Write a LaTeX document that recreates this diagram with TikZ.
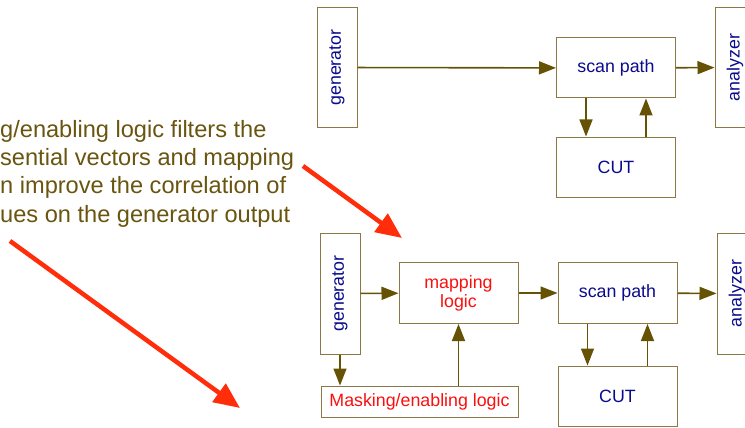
\documentclass[tikz,border=0pt]{standalone}
\usepackage{fontspec}
\setmainfont{Liberation Sans}
\usetikzlibrary{arrows.meta,positioning}
\definecolor{boxline}{RGB}{140,120,70}
\definecolor{arrcol}{RGB}{102,82,5}
\definecolor{txtblue}{RGB}{10,10,140}
\definecolor{hired}{RGB}{250,15,15}
\definecolor{ptred}{RGB}{255,45,10}
\definecolor{notecol}{RGB}{105,85,15}
\tikzset{
  blk/.style={draw=boxline, line width=1pt, minimum width=119pt, minimum height=61pt,
              inner sep=0pt, align=center, text=txtblue, font=\fontsize{17.8}{19}\selectfont},
  vblk/.style={blk, rotate=90, minimum width=121pt, minimum height=40pt},
  redblk/.style={blk, text=hired},
  flow/.style={-{Triangle[length=17pt,width=13pt]}, arrcol, line width=1.6pt},
  hint/.style={-{Triangle[length=26pt,width=22pt]}, ptred, line width=4.5pt},
  note/.style={anchor=west, inner sep=0pt, align=left, text=notecol,
               font=\fontsize{23.6}{28.3}\selectfont},
}
\begin{document}
\begin{tikzpicture}[x=1pt,y=-1pt]
  \useasboundingbox (0,0) rectangle (745,428);
  \node[note] (txt) at (0,173.5)
       {g/enabling logic filters the\\ sential vectors and mapping\\
        n improve the correlation of\\ ues on the generator output};

  \node[vblk, minimum width=119pt] (gen1) at (337,67.5) {generator};
  \node[blk, minimum height=60pt] (scan1) at (616,68) {scan path};
  \node[blk, minimum height=60pt] (cut1) at (616,167) {CUT};
  \node[vblk, minimum width=119pt] (ana1) at (735,67.5) {analyzer};
  \draw[flow] (gen1) -- (scan1);
  \draw[flow] (scan1) -- (ana1);
  \draw[flow] ([xshift=-30pt]scan1.south) -- ([xshift=-30pt]cut1.north);
  \draw[flow] ([xshift=30pt]cut1.north) -- ([xshift=30pt]scan1.south);

  \node[vblk] (gen2) at (340,293.5) {generator};
  \node[redblk] (map) at (458.5,293) {mapping\\ logic};
  \node[blk] (scan2) at (617.5,293) {scan path};
  \node[blk, minimum height=60pt] (cut2) at (617.5,396) {CUT};
  \node[vblk] (ana2) at (737,293.5) {analyzer};
  \node[redblk, minimum width=197pt, minimum height=31pt] (mask) at (419.5,401.5)
       {Masking/enabling logic};
  \draw[flow] (gen2) -- (map);
  \draw[flow] (map) -- (scan2);
  \draw[flow] (scan2) -- (ana2);
  \draw[flow] (gen2.west) -- (gen2.west |- mask.north);
  \draw[flow] (mask.north -| map) -- (map.south);
  \draw[flow] ([xshift=-30pt]scan2.south) -- ([xshift=-30pt]cut2.north);
  \draw[flow] ([xshift=30pt]cut2.north) -- ([xshift=30pt]scan2.south);

  \coordinate (p1a) at (303,166);
  \coordinate (p1b) at (402,238);
  \coordinate (p2a) at (10,241);
  \coordinate (p2b) at (240,408);
  \draw[hint] (p1a) -- (p1b);
  \draw[hint] (p2a) -- (p2b);
\end{tikzpicture}
\end{document}
